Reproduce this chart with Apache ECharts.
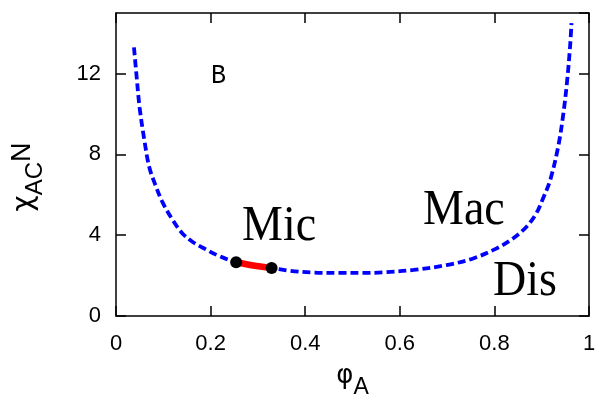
<!DOCTYPE html>
<html>
<head>
<meta charset="utf-8">
<script src="https://cdn.jsdelivr.net/npm/echarts@6/dist/echarts.min.js"></script>
<style>
  html, body { margin: 0; padding: 0; background: #fff; }
  #chart { width: 596px; height: 397px; }
</style>
</head>
<body>
<div id="chart"></div>
<script>
// boundary curve (dashed blue)
const phiCurve = [0.038, 0.043, 0.050, 0.060, 0.070, 0.083, 0.099, 0.120, 0.140, 0.163, 0.190, 0.215, 0.254,
  0.290, 0.329, 0.368, 0.417, 0.470, 0.520, 0.565, 0.629, 0.699, 0.755, 0.805, 0.840, 0.868, 0.889, 0.903, 0.918,
  0.935, 0.946, 0.954, 0.960, 0.963]
const chiCurve = [13.30, 12.00, 10.30, 8.70, 7.40, 6.50, 5.60, 4.75, 4.10, 3.65, 3.30, 3.00, 2.66,
  2.50, 2.38, 2.24, 2.15, 2.13, 2.13, 2.16, 2.28, 2.52, 2.85, 3.35, 3.85, 4.42, 5.10, 5.83, 6.73,
  8.40, 10.05, 11.70, 13.35, 14.50]

// red segment with its end points
const phiRed = [0.254, 0.290, 0.329]
const chiRed = [2.66, 2.50, 2.38]
const phiDots = [0.254, 0.329]
const chiDots = [2.66, 2.38]

const xTicks = { min: 0, max: 1, step: 0.2 }
const yTicks = { min: 0, max: 15, step: 4 }

const zip = (xs, ys) => xs.map((x, i) => [x, ys[i]])

const black = '#000'
const tickFont = { color: black, fontSize: 22, fontFamily: 'Liberation Sans, Arial, sans-serif' }

const axisBase = {
  axisLine: { show: true, onZero: false, lineStyle: { color: black, width: 1.5 } },
  axisTick: { show: true, inside: true, length: 10, lineStyle: { color: black, width: 1.5 } },
  splitLine: { show: false }
}

// region labels, drawn in a slightly tall serif like the original
const word = (text, x, y, size, family) => ({
  type: 'text', x, y, scaleY: 1.12,
  style: { text, fontSize: size, fontFamily: family, fill: black, verticalAlign: 'middle' }
})

const chart = echarts.init(document.getElementById('chart'), null, { renderer: 'canvas' })

chart.setOption({
  animation: false,
  backgroundColor: '#fff',
  grid: { left: 116, right: 7, top: 13, bottom: 81, outerBoundsMode: 'none', containLabel: false },
  xAxis: [
    {
      ...axisBase,
      type: 'value', min: xTicks.min, max: xTicks.max, interval: xTicks.step,
      axisLabel: { ...tickFont, margin: 17 },
      name: '{a|φ}{s|A}',
      nameLocation: 'middle',
      nameGap: 47,
      nameTextStyle: {
        rich: {
          a: { fontSize: 26, fontFamily: 'DejaVu Sans', color: black, verticalAlign: 'top', lineHeight: 26 },
          s: { fontSize: 23, fontFamily: 'Liberation Sans', color: black, verticalAlign: 'top', lineHeight: 23, padding: [13, 0, 0, 0] }
        }
      }
    },
    {
      ...axisBase,
      type: 'value', position: 'top', min: xTicks.min, max: xTicks.max, interval: xTicks.step,
      axisLabel: { show: false }
    }
  ],
  yAxis: [
    {
      ...axisBase,
      type: 'value', min: yTicks.min, max: yTicks.max, interval: yTicks.step,
      axisLabel: { ...tickFont, margin: 15, showMaxLabel: false },
      name: '{c|χ}{s|AC}{n|N}',
      nameLocation: 'middle',
      nameGap: 79,
      nameRotate: 90,
      nameTextStyle: {
        padding: [0, 25, 0, 0],
        rich: {
          c: { fontSize: 28, fontFamily: 'DejaVu Sans', color: black, verticalAlign: 'top', lineHeight: 28, padding: [2, 0, 0, 0] },
          s: { fontSize: 24, fontFamily: 'Liberation Sans', color: black, verticalAlign: 'top', lineHeight: 24, padding: [14, 0, 0, 0] },
          n: { fontSize: 27, fontFamily: 'Liberation Sans', color: black, verticalAlign: 'top', lineHeight: 27 }
        }
      }
    },
    {
      ...axisBase,
      type: 'value', position: 'right', min: yTicks.min, max: yTicks.max, interval: yTicks.step,
      axisLabel: { show: false }
    }
  ],
  series: [
    {
      type: 'line',
      data: zip(phiCurve, chiCurve),
      smooth: 0.35,
      showSymbol: false,
      lineStyle: { color: '#0000ff', width: 3.8, type: [8, 4], cap: 'butt' },
      z: 2
    },
    {
      type: 'line',
      data: zip(phiRed, chiRed),
      smooth: 0.3,
      showSymbol: false,
      lineStyle: { color: '#ff0000', width: 6.5 },
      z: 3
    },
    {
      type: 'scatter',
      data: zip(phiDots, chiDots),
      symbolSize: 12,
      itemStyle: { color: black, opacity: 1 },
      z: 4
    }
  ],
  graphic: [
    word('B', 211, 76, 25, 'Liberation Mono'),
    word('Mic', 242, 226, 46, 'Liberation Serif'),
    word('Mac', 423, 210, 46, 'Liberation Serif'),
    word('Dis', 493, 281, 46, 'Liberation Serif')
  ]
})
</script>
</body>
</html>
